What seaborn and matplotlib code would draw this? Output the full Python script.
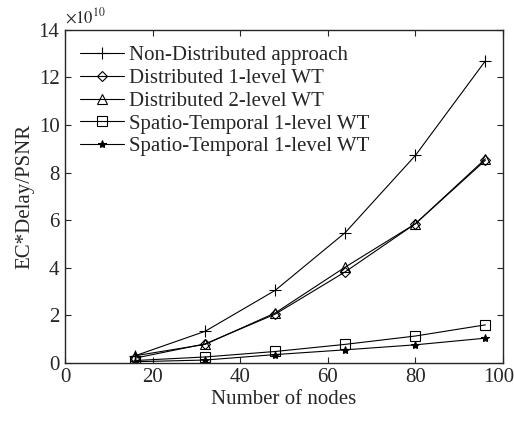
import pandas as pd
import matplotlib.pyplot as plt
import matplotlib.transforms as mtransforms
import seaborn as sns

# values in units of 1e10
nodes = [16, 32, 48, 64, 80, 96]
non_dist = [0.3, 1.33, 3.05, 5.48, 8.72, 12.7]
dist_1 = [0.2, 0.8, 2.05, 3.83, 5.85, 8.52]
dist_2 = [0.3, 0.78, 2.1, 4.03, 5.85, 8.58]
st_1 = [0.1, 0.25, 0.48, 0.78, 1.13, 1.6]
st_2 = [0.05, 0.12, 0.35, 0.55, 0.76, 1.04]

labels = ["Non-Distributed approach", "Distributed 1-level WT",
          "Distributed 2-level WT", "Spatio-Temporal 1-level WT",
          "Spatio-Temporal 1-level WT "]
markers = ["+", "D", "^", "s", "*"]
msizes = [9, 5, 7, 6.5, 6]
fills = ["none", "none", "none", "none", "black"]

sns.set_style("ticks")
plt.rcParams['font.family'] = ['Liberation Serif', 'DejaVu Serif']
plt.rcParams['mathtext.fontset'] = 'stix'

fig = plt.figure(figsize=(5.14, 4.21), dpi=100)
ax = fig.add_axes([0.1265, 0.138, 0.852, 0.791])

for vals, lab, m, ms, fc in zip([non_dist, dist_1, dist_2, st_1, st_2], labels, markers, msizes, fills):
    df = pd.DataFrame({"x": nodes, "y": vals})
    sns.lineplot(data=df, x="x", y="y", ax=ax, color="black", linewidth=0.8,
                 marker=m, markersize=ms, markerfacecolor=fc,
                 markeredgecolor="black", markeredgewidth=0.8, label=lab)

ax.set_xlim(0, 100)
ax.set_ylim(0, 14)
ax.set_xticks([0, 20, 40, 60, 80, 100])
ax.set_yticks([0, 2, 4, 6, 8, 10, 12, 14])
ax.tick_params(direction="in", top=True, right=True, labelsize=15, length=4, width=0.8, pad=4)
for s in ax.spines.values():
    s.set_linewidth(1.0)
ax.set_xlabel("Number of nodes", fontsize=15, labelpad=2)
ax.set_ylabel("EC*Delay/PSNR", fontsize=15, labelpad=3)
ax.text(0.0, 1.01, r"$\times10^{10}$", transform=ax.transAxes, fontsize=12, va="bottom", ha="left")

# keep the "100" label inside the canvas
last = ax.get_xticklabels()[-1]
last.set_transform(last.get_transform() + mtransforms.ScaledTranslation(-4 / 100, 0, fig.dpi_scale_trans))

leg = ax.legend(loc="upper left", frameon=False, fontsize=15, handlelength=2.1,
                handletextpad=0.25, labelspacing=0.15, borderaxespad=0.0,
                bbox_to_anchor=(0.016, 0.977))

fig.savefig("out.png", dpi=100)
